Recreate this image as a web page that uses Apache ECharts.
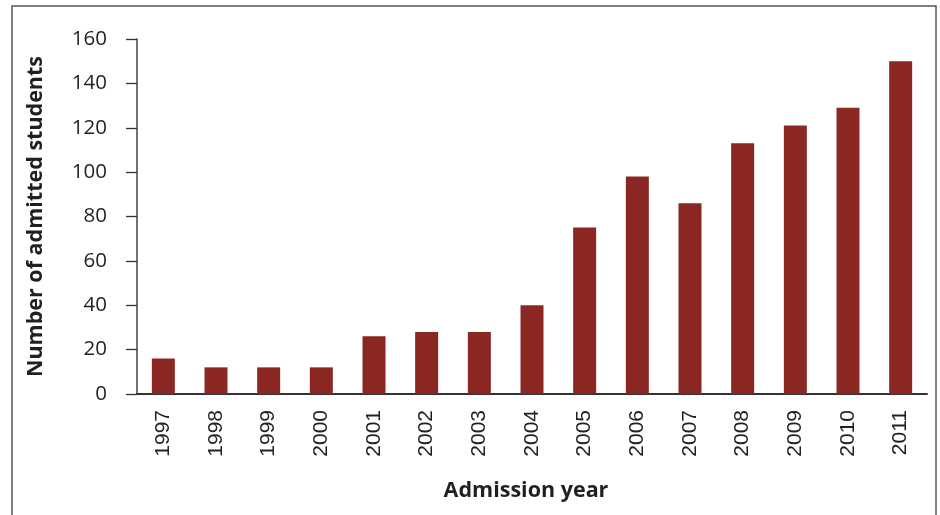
<!DOCTYPE html>
<html>
<head>
<meta charset="utf-8">
<script src="https://cdn.jsdelivr.net/npm/echarts@6/dist/echarts.min.js"></script>
<style>
html,body{margin:0;padding:0;background:#fff;}
#chart{width:940px;height:515px;}
</style>
</head>
<body>
<div id="chart"></div>
<script>
const categories = ['1997','1998','1999','2000','2001','2002','2003','2004','2005','2006','2007','2008','2009','2010','2011'];
const admitted = [16, 12, 12, 12, 26, 28, 28, 40, 75, 98, 86, 113, 121, 129, 150];
const yTicks = { min: 0, max: 160, interval: 20 };

const chart = echarts.init(document.getElementById('chart'), null, { renderer: 'canvas' });
chart.setOption({
  animation: false,
  backgroundColor: '#fff',
  graphic: [{
    type: 'rect',
    shape: { x: 12, y: 6, width: 924, height: 530 },
    style: { fill: 'none', stroke: '#555', lineWidth: 1.5 },
    silent: true
  }],
  grid: { left: 137, right: 13, top: 39, bottom: 121, containLabel: false },
  xAxis: {
    type: 'category',
    data: categories,
    name: 'Admission year',
    nameLocation: 'middle',
    nameGap: 86,
    nameTextStyle: { fontFamily: 'Open Sans', fontWeight: 'bold', fontSize: 21.5, color: '#231f20', padding: [0, 12, 0, 0] },
    axisLine: { lineStyle: { color: '#333', width: 2 } },
    axisTick: { show: false },
    axisLabel: { rotate: 90, margin: 16, fontFamily: 'Liberation Sans', fontSize: 21, color: '#231f20' }
  },
  yAxis: {
    type: 'value',
    min: yTicks.min, max: yTicks.max, interval: yTicks.interval,
    name: 'Number of admitted students',
    nameLocation: 'middle',
    nameRotate: 90,
    nameGap: 90,
    nameTextStyle: { fontFamily: 'Open Sans', fontWeight: 'bold', fontSize: 21.5, color: '#231f20' },
    axisLine: { show: true, lineStyle: { color: '#444', width: 1.5 } },
    axisTick: { show: true, inside: false, length: 11, lineStyle: { color: '#333', width: 1.3 } },
    splitLine: { show: false },
    axisLabel: { margin: 30, fontFamily: 'Open Sans', fontSize: 20.5, color: '#231f20' }
  },
  series: [{
    type: 'bar',
    data: admitted,
    barWidth: 23,
    itemStyle: { color: '#8a2723' }
  }]
});
</script>
</body>
</html>
